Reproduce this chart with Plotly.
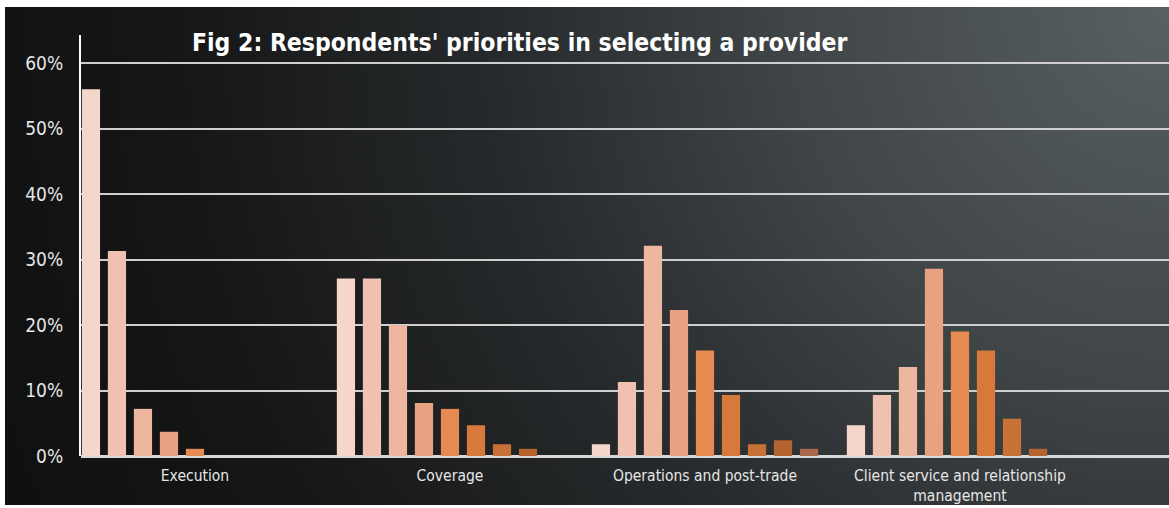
import base64
import plotly.graph_objects as go

categories = ["Execution", "Coverage", "Operations and post-trade",
              "Client service and relationship<br>management"]

series_names = ["Priority 1", "Priority 2", "Priority 3", "Priority 4", "Priority 5",
                "Priority 6", "Priority 7", "Priority 8", "Priority 9"]

p1 = [56.0, 27.1, 1.8, 4.7]
p2 = [31.3, 27.1, 11.3, 9.3]
p3 = [7.2, 20.0, 32.1, 13.6]
p4 = [3.7, 8.1, 22.3, 28.6]
p5 = [1.1, 7.2, 16.1, 19.0]
p6 = [0.0, 4.7, 9.3, 16.1]
p7 = [0.0, 1.8, 1.8, 5.7]
p8 = [0.0, 1.1, 2.4, 1.1]
p9 = [0.0, 0.0, 1.1, 0.0]
series_values = [p1, p2, p3, p4, p5, p6, p7, p8, p9]

colors = ["#f4d6ca", "#f0c1b0", "#edb69e", "#e8a282", "#e58b52",
          "#d8793c", "#c87137", "#b66332", "#a8694a"]

ytick_vals = [0, 10, 20, 30, 40, 50, 60]
ytick_text = ["0%", "10%", "20%", "30%", "40%", "50%", "60%"]

title_text = "Fig 2: Respondents' priorities in selecting a provider"

W, H = 1169, 508
L, R, T, B = 81, 0, 35, 52

svg = (
    '<svg xmlns="http://www.w3.org/2000/svg" width="1164" height="498" '
    'viewBox="0 0 1164 498" preserveAspectRatio="none">'
    '<defs><radialGradient id="g" gradientUnits="userSpaceOnUse" cx="1164" cy="0" r="1250">'
    '<stop offset="0" stop-color="#586063"/>'
    '<stop offset="0.3" stop-color="#404547"/>'
    '<stop offset="0.55" stop-color="#26292b"/>'
    '<stop offset="0.8" stop-color="#151616"/>'
    '<stop offset="1" stop-color="#101010"/>'
    '</radialGradient></defs>'
    '<rect x="0" y="0" width="1164" height="498" fill="url(#g)"/></svg>'
)
bg_uri = "data:image/svg+xml;base64," + base64.b64encode(svg.encode()).decode()

font_family = "DejaVu Sans Condensed, Liberation Sans Narrow, sans-serif"

fig = go.Figure()
for name, vals, col in zip(series_names, series_values, colors):
    fig.add_trace(go.Bar(x=list(range(len(categories))), y=vals, name=name,
                         marker=dict(color=col, line=dict(width=0)),
                         showlegend=False, hoverinfo="x+y"))

pw = W - L - R
ph = H - T - B
fig.update_layout(
    width=W, height=H,
    margin=dict(l=L, r=R, t=T, b=B, pad=0),
    paper_bgcolor="white",
    plot_bgcolor="rgba(0,0,0,0)",
    barmode="group",
    bargap=0.082,
    bargroupgap=0.3,
    font=dict(family=font_family, color="#e6e6e6", size=15),
    xaxis=dict(
        tickmode="array",
        tickvals=list(range(len(categories))),
        ticktext=categories,
        range=[-0.447, -0.447 + pw / 255.0],
        showgrid=False, zeroline=False, showline=False,
        ticks="outside", ticklen=5, tickcolor="rgba(0,0,0,0)",
        tickfont=dict(size=15.5, color="#e6e6e6"),
    ),
    yaxis=dict(
        range=[0, ph / 6.547],
        tickmode="array", tickvals=ytick_vals, ticktext=ytick_text,
        showgrid=True, gridcolor="#cfcfcf", gridwidth=2,
        zeroline=True, zerolinecolor="#d8d8d8", zerolinewidth=3,
        showline=True, linecolor="#ffffff", linewidth=2,
        ticks="outside", ticklen=12, tickcolor="rgba(0,0,0,0)",
        tickfont=dict(size=19, color="#e6e6e6"),
    ),
    images=[dict(
        source=bg_uri, xref="paper", yref="paper",
        x=(5 - L) / pw, y=(H - B - 7) / ph,
        sizex=(W - 5) / pw, sizey=(505 - 7) / ph,
        xanchor="left", yanchor="top", sizing="stretch", layer="below",
    )],
    annotations=[dict(
        text="<b>" + title_text + "</b>",
        xref="paper", yref="paper",
        x=(190 - L) / pw, y=(H - B - 43) / ph,
        xanchor="left", yanchor="middle", showarrow=False,
        font=dict(family=font_family, size=24.5, color="#ffffff"),
    )],
)

fig.write_html("out.html",
               config={"displayModeBar": False},
               post_script="document.body.style.margin='0';document.body.style.overflow='hidden';")
